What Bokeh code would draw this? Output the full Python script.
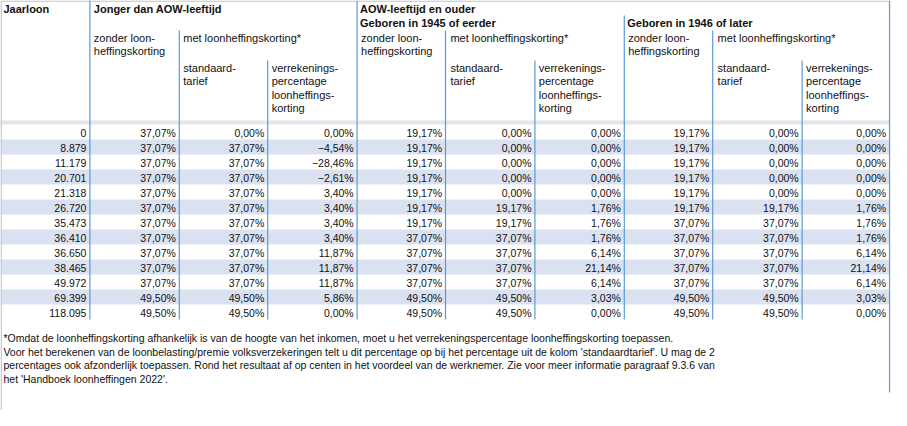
from bokeh.plotting import figure
from bokeh.models import Range1d, ColumnDataSource
from bokeh.core.properties import value
from bokeh.embed import file_html
from bokeh.resources import INLINE

# ---------------- data ----------------
jaarloon = [0, 8879, 11179, 20701, 21318, 26720, 35473, 36410, 36650, 38465, 49972, 69399, 118095]

jonger_zonder = [37.07, 37.07, 37.07, 37.07, 37.07, 37.07, 37.07, 37.07, 37.07, 37.07, 37.07, 49.50, 49.50]
jonger_std = [0.00, 37.07, 37.07, 37.07, 37.07, 37.07, 37.07, 37.07, 37.07, 37.07, 37.07, 49.50, 49.50]
jonger_verr = [0.00, -4.54, -28.46, -2.61, 3.40, 3.40, 3.40, 3.40, 11.87, 11.87, 11.87, 5.86, 0.00]

aow45_zonder = [19.17, 19.17, 19.17, 19.17, 19.17, 19.17, 19.17, 37.07, 37.07, 37.07, 37.07, 49.50, 49.50]
aow45_std = [0.00, 0.00, 0.00, 0.00, 0.00, 19.17, 19.17, 37.07, 37.07, 37.07, 37.07, 49.50, 49.50]
aow45_verr = [0.00, 0.00, 0.00, 0.00, 0.00, 1.76, 1.76, 1.76, 6.14, 21.14, 6.14, 3.03, 0.00]

aow46_zonder = [19.17, 19.17, 19.17, 19.17, 19.17, 19.17, 37.07, 37.07, 37.07, 37.07, 37.07, 49.50, 49.50]
aow46_std = [0.00, 0.00, 0.00, 0.00, 0.00, 19.17, 37.07, 37.07, 37.07, 37.07, 37.07, 49.50, 49.50]
aow46_verr = [0.00, 0.00, 0.00, 0.00, 0.00, 1.76, 1.76, 1.76, 6.14, 21.14, 6.14, 3.03, 0.00]

footnote = [
    "*Omdat de loonheffingskorting afhankelijk is van de hoogte van het inkomen, moet u het verrekeningspercentage loonheffingskorting toepassen.",
    "Voor het berekenen van de loonbelasting/premie volksverzekeringen telt u dit percentage op bij het percentage uit de kolom 'standaardtarief'. U mag de 2",
    "percentages ook afzonderlijk toepassen. Rond het resultaat af op centen in het voordeel van de werknemer. Zie voor meer informatie paragraaf 9.3.6 van",
    "het 'Handboek loonheffingen 2022'.",
]

# ---------------- helpers ----------------
def fmt_int(v):
    return f"{v:,}".replace(",", ".")

def fmt_pct(v):
    s = f"{abs(v):.2f}".replace(".", ",") + "%"
    return ("\u2212" + s) if v < 0 else s

FONT = value("Liberation Sans")
BLUE = "#5b9bd5"
BAND = "#dae1f1"
SEP = "#e2e5ec"
GRAY = "#c4c4c4"
TXT = "#111111"

W, H = 907, 410
p = figure(width=891, height=410, x_range=Range1d(0, W), y_range=Range1d(H, 0),
           output_backend="svg", toolbar_location=None, min_border=0,
           background_fill_color="white", border_fill_color="white")
p.axis.visible = False
p.grid.visible = False
p.outline_line_color = None

# column boundaries
cols = [0, 91, 182, 272, 363, 453, 544, 635, 725, 816, 905]
row_top0, row_h = 124, 15
n = len(jaarloon)

# row bands
band_rows = [i for i in range(n) if i % 2 == 1]
p.quad(left=[0] * len(band_rows), right=[905] * len(band_rows),
       top=[row_top0 + row_h * i for i in band_rows],
       bottom=[row_top0 + row_h * (i + 1) for i in band_rows],
       fill_color=BAND, line_color=None)
# separator band between header and data
p.quad(left=[0], right=[905], top=[120], bottom=[124], fill_color=SEP, line_color=None)

data_bottom = row_top0 + row_h * n

# outer border
p.segment(x0=[0.7, 0], y0=[0, 0.6], x1=[0.7, 905], y1=[H, 0.6], line_color=GRAY, line_width=1.3)

# vertical lines
vx = [91, 363, 635, 182, 453, 725, 272, 544, 816]
vy = [0, 0, 15, 30, 30, 30, 60, 60, 60]
p.segment(x0=vx, y0=vy, x1=vx, y1=[data_bottom] * len(vx), line_color=BLUE, line_width=1.2)
p.segment(x0=[905], y0=[0], x1=[905], y1=[392], line_color=BLUE, line_width=1.2)

# header texts
bold_txt = ["Jaarloon", "Jonger dan AOW-leeftijd", "AOW-leeftijd en ouder",
            "Geboren in 1945 of eerder", "Geboren in 1946 of later"]
bold_x = [3, 95, 366, 366, 638]
bold_y = [8, 8, 8, 22, 22]
p.text(x=bold_x, y=bold_y, text=bold_txt, text_font=FONT, text_font_style="bold",
       text_font_size="11px", text_baseline="middle", text_align="left", text_color=TXT)

hx, hy, ht = [], [], []
for start in (91, 363, 635):
    hx += [start + 4, start + 4, start + 95]
    hy += [37, 50, 37]
    ht += ["zonder loon-", "heffingskorting", "met loonheffingskorting*"]
    hx += [start + 95, start + 95]
    hy += [67, 80]
    ht += ["standaard-", "tarief"]
    hx += [start + 185] * 4
    hy += [67, 80, 94, 107]
    ht += ["verrekenings-", "percentage", "loonheffings-", "korting"]
p.text(x=hx, y=hy, text=ht, text_font=FONT, text_font_size="11px",
       text_baseline="middle", text_align="left", text_color=TXT)

# data cells
columns = [
    [fmt_int(v) for v in jaarloon],
    [fmt_pct(v) for v in jonger_zonder],
    [fmt_pct(v) for v in jonger_std],
    [fmt_pct(v) for v in jonger_verr],
    [fmt_pct(v) for v in aow45_zonder],
    [fmt_pct(v) for v in aow45_std],
    [fmt_pct(v) for v in aow45_verr],
    [fmt_pct(v) for v in aow46_zonder],
    [fmt_pct(v) for v in aow46_std],
    [fmt_pct(v) for v in aow46_verr],
]
cx, cy, ct = [], [], []
for j, col in enumerate(columns):
    for i, s in enumerate(col):
        cx.append(cols[j + 1] - 3.5)
        cy.append(row_top0 + row_h * i + row_h / 2 + 0.5)
        ct.append(s)
src = ColumnDataSource(dict(x=cx, y=cy, t=ct))
p.text(x="x", y="y", text="t", source=src, text_font=FONT, text_font_size="10.5px",
       text_baseline="middle", text_align="right", text_color=TXT)

# footnote
p.text(x=[3] * len(footnote), y=[337, 351, 364, 378], text=footnote, text_font=FONT,
       text_font_size="10.5px", text_baseline="middle", text_align="left", text_color=TXT)

open("out.html", "w").write(file_html(p, INLINE))
